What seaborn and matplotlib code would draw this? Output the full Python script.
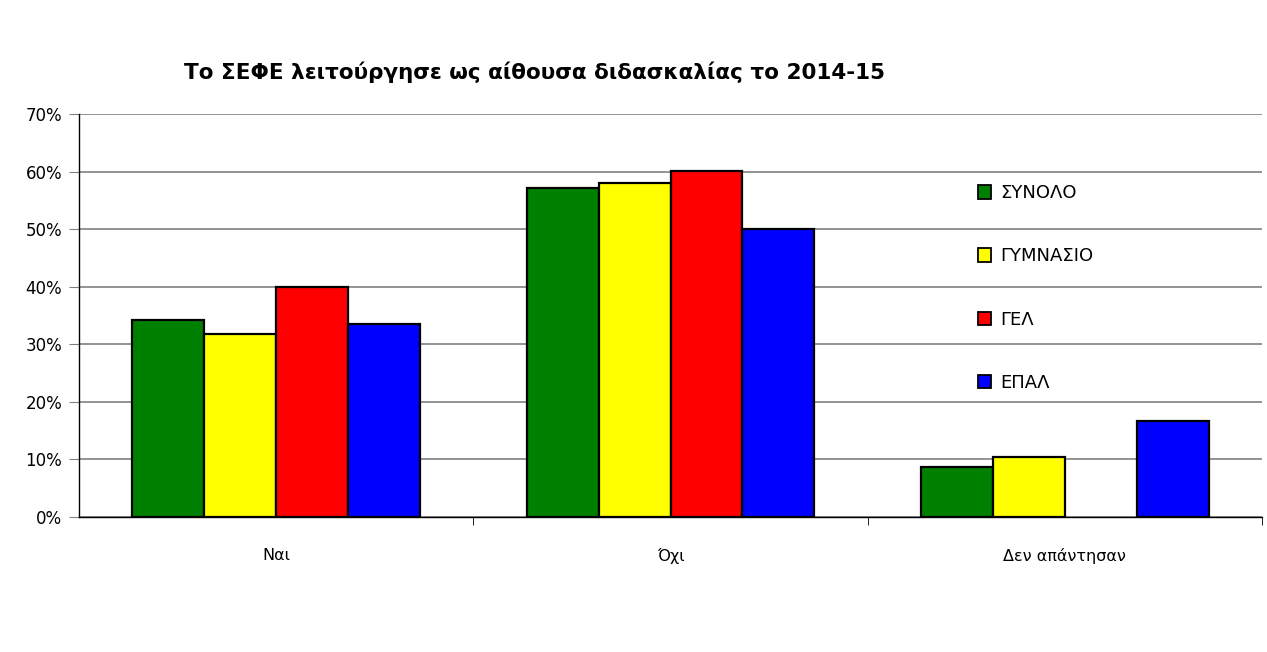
import matplotlib
matplotlib.use("Agg")
import matplotlib.pyplot as plt
import seaborn as sns
import pandas as pd
from matplotlib.ticker import FuncFormatter, FixedLocator
from matplotlib.patches import Patch

categories = ["Ναι", "Όχι", "Δεν απάντησαν"]
series = ["ΣΥΝΟΛΟ", "ΓΥΜΝΑΣΙΟ", "ΓΕΛ", "ΕΠΑΛ"]
synolo = [34.2, 57.2, 8.6]
gymnasio = [31.7, 58.0, 10.4]
gel = [40.0, 60.1, 0.0]
epal = [33.5, 50.0, 16.7]
colors = ["#008000", "#FFFF00", "#FF0000", "#0000FF"]
title = "Το ΣΕΦΕ λειτούργησε ως αίθουσα διδασκαλίας το 2014-15"

rows = []
for name, vals in zip(series, [synolo, gymnasio, gel, epal]):
    for c, v in zip(categories, vals):
        rows.append({"cat": c, "series": name, "val": v})
df = pd.DataFrame(rows)

sns.set_style("white")
plt.rcParams["font.family"] = ["DejaVu Sans"]
plt.rcParams["text.color"] = "black"
plt.rcParams["xtick.color"] = "black"
plt.rcParams["ytick.color"] = "black"

fig = plt.figure(figsize=(12.67, 6.52), dpi=100)
ax = fig.add_axes([79/1267, 1-517/652, (1262-79)/1267, (517-114)/652])

sns.barplot(data=df, x="cat", y="val", hue="series", order=categories,
            hue_order=series, palette=colors, width=0.73, ax=ax,
            edgecolor="black", linewidth=1.6, saturation=1, errorbar=None,
            legend=False)

for p in ax.patches:
    if p.get_height() == 0:
        p.set_linewidth(0)

ax.set_ylim(0, 70)
ax.set_xlim(-0.5, 2.5)
ax.set_yticks(range(0, 71, 10))
ax.yaxis.set_major_formatter(FuncFormatter(lambda v, p: f"{int(v)}%"))
ax.yaxis.grid(True, color="#808080", linewidth=1.2)
ax.set_axisbelow(True)
ax.tick_params(axis="y", length=7, color="#808080", labelcolor="black",
               labelsize=12, pad=5, left=True)
ax.tick_params(axis="x", which="major", length=0, labelsize=11.5,
               labelcolor="black", pad=22)
ax.xaxis.set_minor_locator(FixedLocator([0.5, 1.5, 2.5]))
ax.tick_params(axis="x", which="minor", length=6, color="black", bottom=True)
ax.set_xlabel("")
ax.set_ylabel("")
for s in ["top", "right"]:
    ax.spines[s].set_visible(False)
ax.spines["left"].set_color("black")
ax.spines["bottom"].set_color("black")
ax.spines["left"].set_linewidth(1.0)
ax.spines["bottom"].set_linewidth(1.0)

handles = [Patch(facecolor=c, edgecolor="black", linewidth=1.3) for c in colors]
ax.legend(handles, series, loc="upper left", bbox_to_anchor=(0.746, 0.866),
          frameon=False, fontsize=13, handlelength=0.75, handleheight=0.75,
          handletextpad=0.5, labelspacing=2.5, labelcolor="black")

fig.text(534/1267, 1-72/652, title, ha="center", va="center",
         fontsize=15.5, fontweight="bold", color="black")

fig.savefig("out.png", dpi=100)
